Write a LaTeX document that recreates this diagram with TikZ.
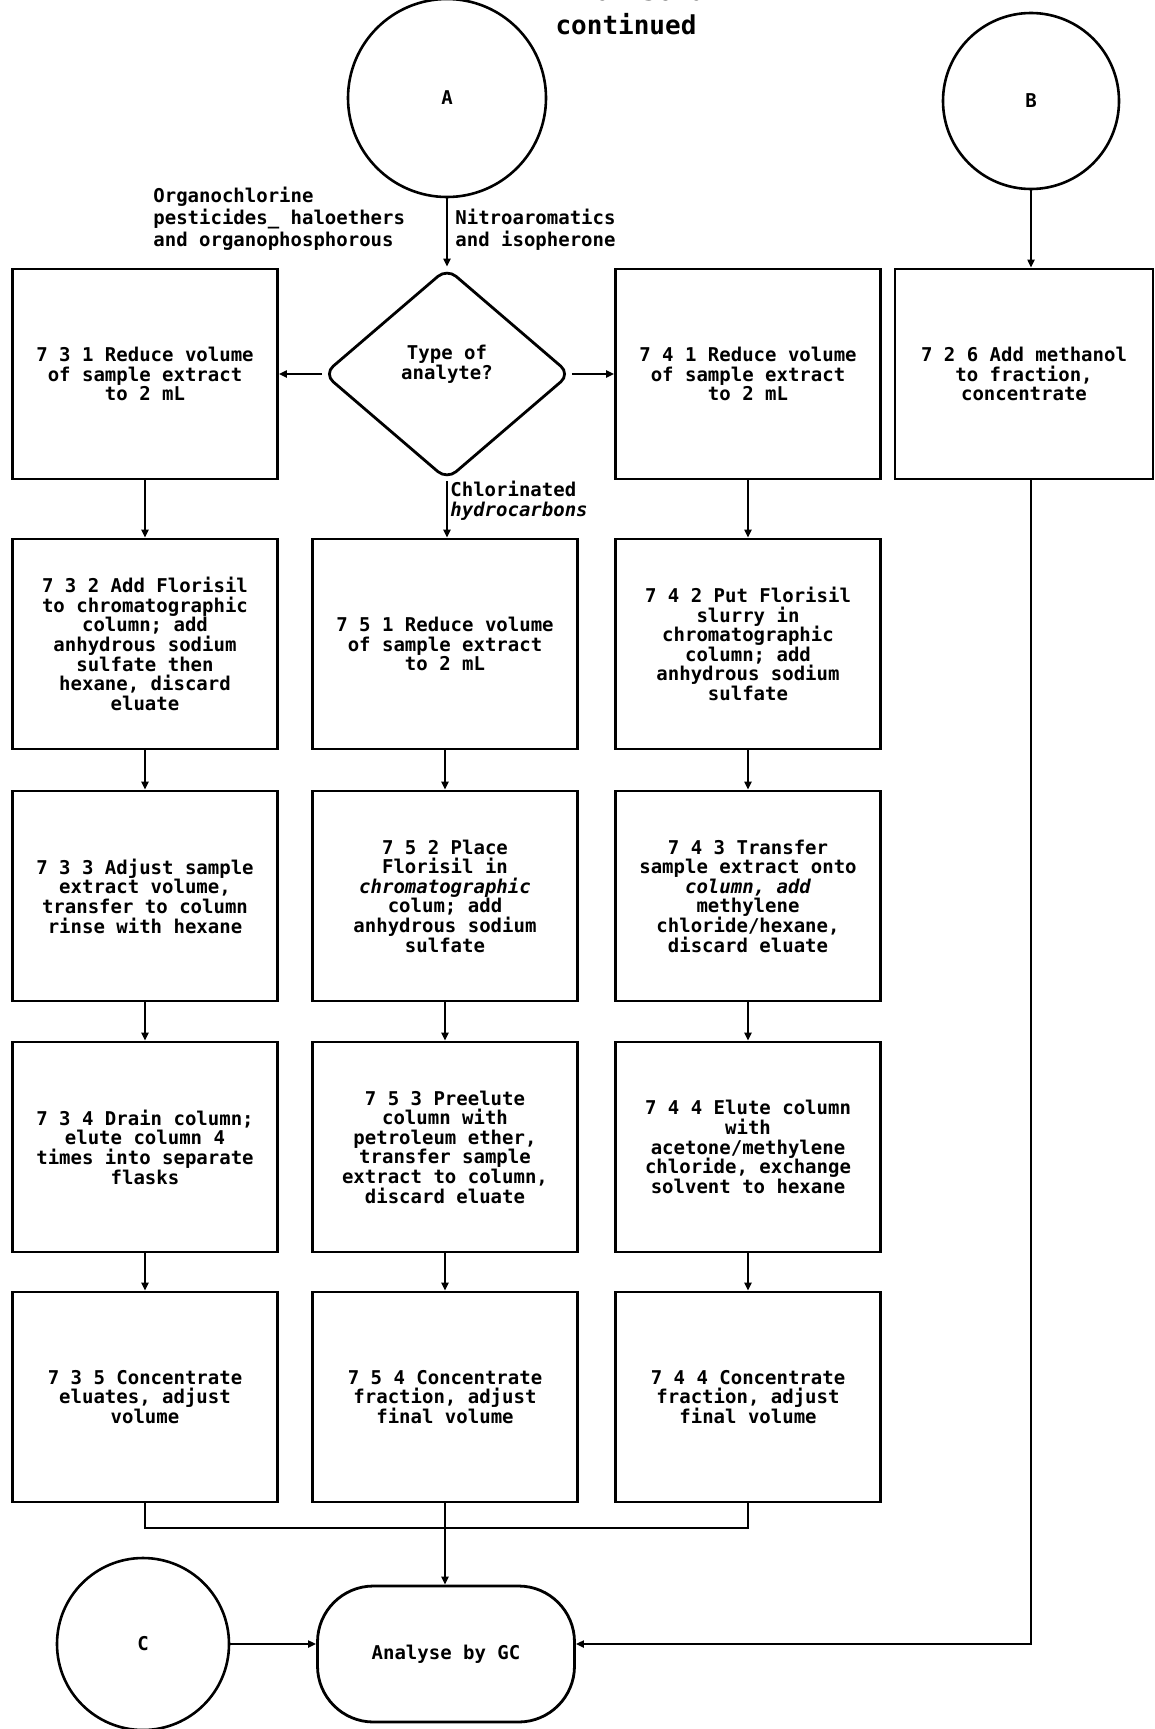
\documentclass[tikz,border=0pt]{standalone}
\usepackage{fontspec}
\newfontfamily\dm{DejaVu Sans Mono}
\usetikzlibrary{shapes.geometric,arrows.meta}
\begin{document}
\begin{tikzpicture}[x=0.5pt,y=-0.5pt,
  txt/.style={font=\dm\bfseries\fontsize{9.5}{9.8}\selectfont},
  box/.style={txt,draw,line width=1.4pt,minimum width=132.5pt,minimum height=105pt,inner sep=0pt,align=center},
  bbox/.style={box,minimum width=129pt},
  circ/.style={txt,draw,circle,line width=1.3pt,inner sep=0pt},
  dia/.style={txt,draw,diamond,line width=1.4pt,inner sep=0pt,align=center,rounded corners=6pt,minimum width=123.5pt,minimum height=106pt},
  term/.style={txt,draw,line width=1.4pt,rounded corners=28pt,minimum width=128.5pt,minimum height=68pt,inner sep=0pt},
  lbl/.style={font=\dm\bfseries\fontsize{9.5}{11}\selectfont,align=left,inner sep=0pt},
  ttl/.style={font=\dm\bfseries\fontsize{13}{14}\selectfont,inner sep=0pt},
  conn/.style={line width=1pt,-{Triangle[length=4pt,width=3.5pt]}},
  ln/.style={line width=1pt}]
\useasboundingbox (0,0) rectangle (1155,1729);
% title (first line is cut off at the top edge, as in the original)
\node[ttl,anchor=base] (t0) at (626,1) {METHOD 3620A};
\node[ttl] (t1) at (626,24) {continued};
% start nodes
\node[circ,minimum size=99pt] (A) at (447,98) {A};
\node[circ,minimum size=88pt] (B) at (1031,101) {B};
\node[dia] (D) at (447,374) {Type of\\analyte?\\[2pt]};
% row 1
\node[box] (L1) at (145,374) {7 3 1 Reduce volume\\of sample extract\\to 2 mL};
\node[box] (R1) at (748,374) {7 4 1 Reduce volume\\of sample extract\\to 2 mL};
\node[bbox] (BX) at (1024,374) {7 2 6 Add methanol\\to fraction,\\concentrate};
% row 2
\node[box] (L2) at (145,644) {7 3 2 Add Florisil\\to chromatographic\\column; add\\anhydrous sodium\\sulfate then\\hexane, discard\\eluate};
\node[box] (M1) at (445,644) {7 5 1 Reduce volume\\of sample extract\\to 2 mL};
\node[box] (R2) at (748,644) {7 4 2 Put Florisil\\slurry in\\chromatographic\\column; add\\anhydrous sodium\\sulfate};
% row 3
\node[box] (L3) at (145,896) {7 3 3 Adjust sample\\extract volume,\\transfer to column\\rinse with hexane};
\node[box] (M2) at (445,896) {7 5 2 Place\\Florisil in\\{\itshape chromatographic}\\colum; add\\anhydrous sodium\\sulfate};
\node[box] (R3) at (748,896) {7 4 3 Transfer\\sample extract onto\\{\itshape column, add}\\methylene\\chloride/hexane,\\discard eluate};
% row 4
\node[box] (L4) at (145,1147) {7 3 4 Drain column;\\elute column 4\\times into separate\\flasks};
\node[box] (M3) at (445,1147) {7 5 3 Preelute\\column with\\petroleum ether,\\transfer sample\\extract to column,\\discard eluate};
\node[box] (R4) at (748,1147) {7 4 4 Elute column\\with\\acetone/methylene\\chloride, exchange\\solvent to hexane};
% row 5
\node[box] (L5) at (145,1397) {7 3 5 Concentrate\\eluates, adjust\\volume};
\node[box] (M4) at (445,1397) {7 5 4 Concentrate\\fraction, adjust\\final volume};
\node[box] (R5) at (748,1397) {7 4 4 Concentrate\\fraction, adjust\\final volume};
% bottom
\node[circ,minimum size=86pt] (C) at (143,1644) {C};
\node[term] (An) at (446,1654) {Analyse by GC};
% labels
\node[lbl,anchor=west] (lo) at (153,219) {Organochlorine\\pesticides\_ haloethers\\and organophosphorous};
\node[lbl,anchor=west] (ln) at (455,230) {Nitroaromatics\\and isopherone};
\node[lbl,anchor=west,font=\dm\bfseries\fontsize{9.5}{10}\selectfont] (lc) at (450,501) {Chlorinated\\{\itshape hydrocarbons}};
% connectors
\draw[conn] (A) -- (D);
\draw[conn] (D) -- (L1);
\draw[conn] (D) -- (R1);
\draw[conn] (D.south) -- (D.south |- M1.north);
\draw[conn] (B) -- (B |- BX.north);
\draw[conn] (L1) -- (L2);
\draw[conn] (L2) -- (L3);
\draw[conn] (L3) -- (L4);
\draw[conn] (L4) -- (L5);
\draw[conn] (M1) -- (M2);
\draw[conn] (M2) -- (M3);
\draw[conn] (M3) -- (M4);
\draw[conn] (R1) -- (R2);
\draw[conn] (R2) -- (R3);
\draw[conn] (R3) -- (R4);
\draw[conn] (R4) -- (R5);
\coordinate (J) at (445,1528);
\draw[ln] (L5.south) |- (J);
\draw[ln] (R5.south) |- (J);
\draw[conn] (M4.south) -- (M4.south |- An.north);
\draw[conn] (C) -- (C -| An.west);
\draw[conn] (B |- BX.south) -- (B |- C) -- (An.east |- C);
\end{tikzpicture}
\end{document}
